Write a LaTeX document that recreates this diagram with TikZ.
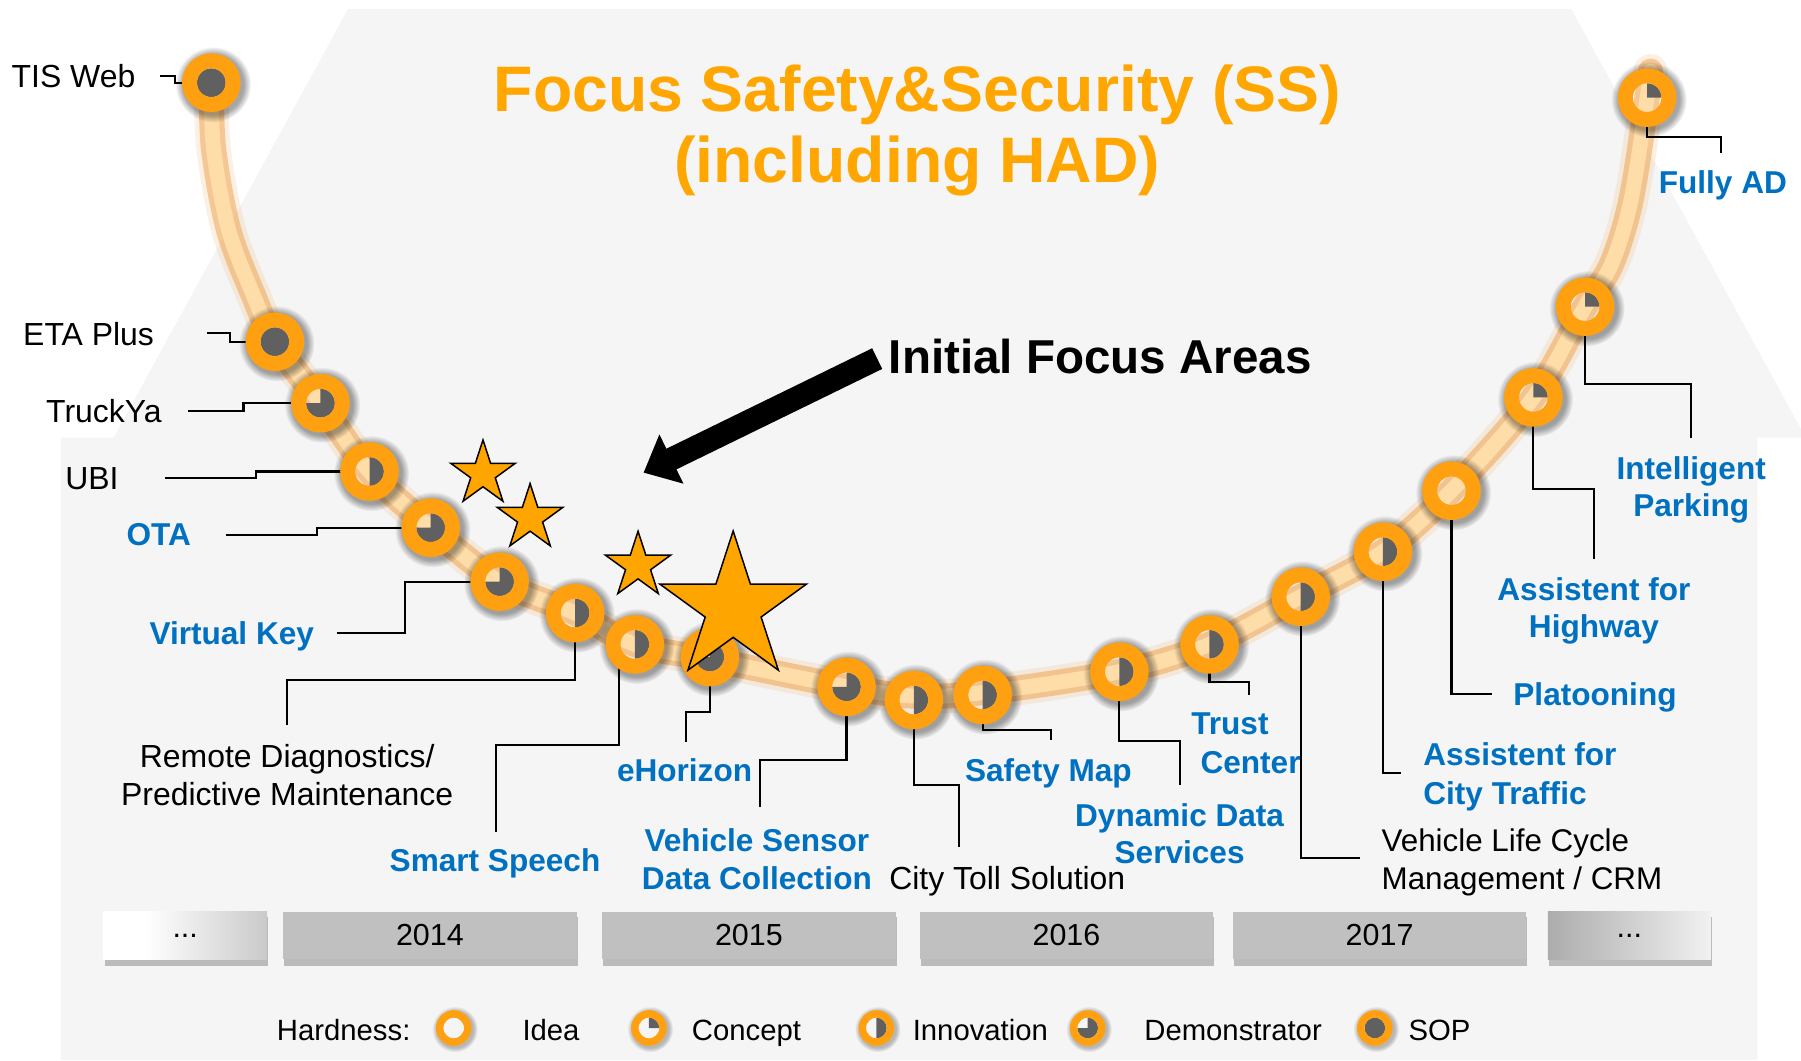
\documentclass[tikz,border=0pt]{standalone}
\usepackage{fontspec}
\setmainfont{Liberation Sans}
\usetikzlibrary{shapes.geometric,arrows.meta,calc,fadings}
\definecolor{bggray}{RGB}{245,245,245}
\definecolor{ringor}{RGB}{255,160,16}
\definecolor{staror}{RGB}{255,165,0}
\definecolor{titleor}{RGB}{255,166,0}
\definecolor{piegray}{RGB}{96,96,96}
\definecolor{lblue}{RGB}{0,112,192}
\definecolor{bandcol}{RGB}{255,221,168}
\definecolor{bandedge}{RGB}{240,160,70}
\definecolor{yearcol}{RGB}{192,192,192}
\definecolor{boxdark}{RGB}{165,165,165}
\pgfdeclarehorizontalshading{fadeleft}{100bp}{color(0bp)=(white); color(38bp)=(white); color(100bp)=(boxdark)}
\pgfdeclarehorizontalshading{faderight}{100bp}{color(0bp)=(boxdark); color(20bp)=(boxdark); color(85bp)=(white); color(100bp)=(white)}
\newcommand{\hardpie}[3]{\fill[piegray] (#1) -- +(0pt,#3) arc[start angle=90,end angle=#2,radius=#3] -- cycle;}
\newcommand{\hardfull}[2]{\fill[piegray] (#1) circle[radius=#2];}
\begin{document}
\begin{tikzpicture}[x=1pt,y=-1pt,
 ring/.style={circle,draw=ringor,line width=13pt,minimum size=38pt,inner sep=0pt},
 lring/.style={circle,draw=ringor,line width=6.5pt,minimum size=24.5pt,inner sep=0pt},
 lbl/.style={font=\fontsize{27.8}{33.5}\selectfont,inner sep=0pt},
 blbl/.style={font=\fontsize{27.5}{33.5}\selectfont\bfseries,text=lblue,inner sep=0pt},
 conn/.style={draw=black,line width=1.8pt},
 starn/.style={star,star points=5,star point ratio=2.618,inner sep=0pt,fill=staror,draw=black,line width=1.3pt},
 ybox/.style={rectangle,inner sep=0pt,minimum height=41.5pt,font=\fontsize{26.5}{32}\selectfont,fill=yearcol},
 yshadow/.style={fill=black!45,opacity=.55},
 glow/.style={fill=black,opacity=.35,even odd rule,path fading=circle with fuzzy edge 20 percent},
 leg/.style={font=\fontsize{25.5}{30}\selectfont,inner sep=0pt,anchor=base west}]

\useasboundingbox (0,0) rectangle (1568,922.9);
\fill[white] (0,0) rectangle (1568,922.9);
\fill[bggray] (303,8) -- (1368,8) -- (1568,373.6) -- (1568,381) -- (1530,381) -- (1530,922.9) -- (53,922.9) -- (53,381) -- (99,381) -- cycle;

% year boxes
\foreach \xa/\xb in {90/232.5,246/502.6,524/780,801/1056,1073.6/1328.6,1347.6/1489.6}
  \fill[yshadow] (\xa+1,798) rectangle (\xb+1,841);
\node[ybox,shading=fadeleft,minimum width=142.5pt] (y0) at (161.25,814.4) {...};
\node[ybox,minimum width=256.6pt] (y1) at (374.3,814.4) {2014};
\node[ybox,minimum width=256pt] (y2) at (652,814.4) {2015};
\node[ybox,minimum width=255pt] (y3) at (928.5,814.4) {2016};
\node[ybox,minimum width=255pt] (y4) at (1201.1,814.4) {2017};
\node[ybox,shading=faderight,minimum width=142pt] (y5) at (1418.6,814.4) {...};

% node centres
\coordinate (c1) at (184,72);
\coordinate (c2) at (239.3,297.5);
\coordinate (c3) at (279,351);
\coordinate (c4) at (321.7,410.5);
\coordinate (c5) at (375,459.4);
\coordinate (c6) at (435,506.4);
\coordinate (c7) at (500.7,533.7);
\coordinate (c8) at (552.7,561);
\coordinate (c9) at (618,572);
\coordinate (c10) at (737,598);
\coordinate (c11) at (795.6,609.4);
\coordinate (c12) at (855.5,605);
\coordinate (c13) at (974.5,584.8);
\coordinate (c14) at (1053,561);
\coordinate (c15) at (1132.4,519.5);
\coordinate (c16) at (1204,480.3);
\coordinate (c17) at (1263.7,427.2);
\coordinate (c18) at (1335,346);
\coordinate (c19) at (1380,267);
\coordinate (c20) at (1434,85);

% band
\foreach \w/\c/\o in {30/bandedge/0.15,22/bandedge/0.5,13/bandcol/1}
  \draw[line width=\w pt,color=\c,opacity=\o,line cap=round,line join=round]
    plot[smooth,tension=0.55] coordinates {(184,72) (186,130) (199,200) (221,258) (239.3,297.5) (279,351) (321.7,410.5) (375,459.4) (435,506.4) (500.7,533.7) (552.7,561) (618,574) (737,598) (795.6,606) (855.5,603) (974.5,584.8) (1053,561) (1132.4,519.5) (1204,480.3) (1263.7,427.2) (1335,346) (1380,267) (1403,230) (1420,174) (1434,85) (1437,62)};

% glows (ring-shaped, hole left clear)
\foreach \i in {1,...,20} \fill[glow] ($(c\i)+(1.5,1.5)$) circle (33pt) ($(c\i)$) circle (18pt);

% hardness pies
\hardfull{c1}{12.5pt}
\hardfull{c2}{12.5pt}
\foreach \i in {3,5,6,9,10} {\hardpie{c\i}{-180}{12.5pt}}
\foreach \i in {4,7,8,11,12,13,14,15,16} {\hardpie{c\i}{-90}{12.5pt}}
\foreach \i in {18,19,20} {\hardpie{c\i}{0}{12.5pt}}

% labels (multi-line nodes: base = last line)
\node[lbl,anchor=base west] (t1) at (10,76.5) {TIS Web};
\node[lbl,anchor=base west] (t2) at (20,300.5) {ETA Plus};
\node[lbl,anchor=base west] (t3) at (40,368) {TruckYa};
\node[lbl,anchor=base west] (t4) at (56.7,426) {UBI};
\node[blbl,anchor=base west] (t5) at (110,475) {OTA};
\node[blbl,anchor=base west] (t6) at (130,561.5) {Virtual Key};
\node[lbl,anchor=base,align=center] (t7) at (250,701.5) {Remote Diagnostics/\\Predictive Maintenance};
\node[blbl,anchor=base] (t8) at (431,759) {Smart Speech};
\node[blbl,anchor=base] (t9) at (596,680.5) {eHorizon};
\node[blbl,anchor=base,align=center,font=\fontsize{27.5}{32.5}\selectfont\bfseries] (t10) at (659,774) {Vehicle Sensor\\Data Collection};
\node[lbl,anchor=base west] (t11) at (774,774.3) {City Toll Solution};
\node[blbl,anchor=base west] (t12) at (840,680.5) {Safety Map};
\node[blbl,anchor=base,align=center,font=\fontsize{27.5}{32.5}\selectfont\bfseries] (t13) at (1027,752.2) {Dynamic Data\\Services};
\node[blbl,anchor=base west,align=left] (t14) at (1037,673.3) {Trust\\\hspace*{8pt}Center};
\node[lbl,anchor=base west,align=left,font=\fontsize{27.3}{33}\selectfont] (t15) at (1202.7,774.3) {Vehicle Life Cycle\\Management / CRM};
\node[blbl,anchor=base west,align=left] (t16) at (1239,700) {Assistent for\\City Traffic};
\node[blbl,anchor=base west] (t17) at (1317.4,613.8) {Platooning};
\node[blbl,anchor=base,align=center,font=\fontsize{27.5}{32.4}\selectfont\bfseries] (t18) at (1387.7,554.8) {Assistent for\\Highway};
\node[blbl,anchor=base,align=center,font=\fontsize{27.5}{32.5}\selectfont\bfseries] (t19) at (1472.4,449.8) {Intelligent\\Parking};
\node[blbl,anchor=base west] (t20) at (1444,168.3) {Fully AD};

% connectors
\draw[conn] (139,66) -- (152,66) -- (152,72) -- ($(c1)+(-19,0)$);
\draw[conn] (180,290) -- (200,290) -- (200,297.5) -- ($(c2)+(-19,0)$);
\draw[conn] (164,358) -- (212,358) -- (212,351) -- ($(c3)+(-19,0)$);
\draw[conn] (144,416) -- (223,416) -- (223,410.5) -- ($(c4)+(-19,0)$);
\draw[conn] (197,465.5) -- (276,465.5) -- (276,459.4) -- ($(c5)+(-19,0)$);
\draw[conn] (293,551.4) -- (353,551.4) -- (353,506.4) -- ($(c6)+(-19,0)$);
\draw[conn] ($(c7)+(0,19)$) -- (500.7,592) -- (250,592) -- (250,631);
\draw[conn] ($(c8)+(-14,16)$) -- (538.7,648.6) -- (432,648.6) -- (432,724);
\draw[conn] ($(c9)+(0,19)$) -- (618,620) -- (597,620) -- (597,646);
\draw[conn] ($(c10)+(0,19)$) -- (737,662) -- (662,662) -- (662,703);
\draw[conn] ($(c11)+(0,19)$) -- (795.6,683.4) -- (835.3,683.4) -- (835.3,737);
\draw[conn] ($(c12)+(0,19)$) -- (855.5,635.5) -- (915.3,635.5) -- (915.3,644);
\draw[conn] ($(c13)+(0,19)$) -- (974.5,644.8) -- (1027,644.8) -- (1027,683.4);
\draw[conn] ($(c14)+(0,19)$) -- (1053,593.5) -- (1087.4,593.5) -- (1087.4,605);
\draw[conn] ($(c15)+(0,19)$) -- (1132.4,747.3) -- (1183.7,747.3);
\draw[conn] ($(c16)+(0,19)$) -- (1204,673.3) -- (1219.7,673.3);
\draw[conn] ($(c17)+(0,19)$) -- (1263.7,604.2) -- (1299,604.2);
\draw[conn] ($(c18)+(0,19)$) -- (1335,426) -- (1388,426) -- (1388,487);
\draw[conn] ($(c19)+(0,19)$) -- (1380,334.3) -- (1472.4,334.3) -- (1472.4,381.6);
\draw[conn] ($(c20)+(0,19)$) -- (1434,119) -- (1498.7,119) -- (1498.7,133.5);

% rings
\foreach \i in {1,...,20} \node[ring] (n\i) at (c\i) {};

% stars
\node[starn,minimum size=59pt] (s1) at (420.5,412.5) {};
\node[starn,minimum size=60pt] (s2) at (461.5,451) {};
\node[starn,minimum size=60pt] (s3) at (555.5,492.5) {};
\node[starn,minimum size=134pt] (s4) at (638.3,529.3) {};

% title and arrow
\node[font=\fontsize{56}{62}\selectfont\bfseries,text=titleor,align=center,anchor=base,inner sep=0pt] (title) at (798.6,159) {Focus Safety\&Security (SS)\\(including HAD)};
\node[font=\fontsize{41.4}{48}\selectfont\bfseries,anchor=base west,inner sep=0pt] (ifa) at (773.7,325) {Initial Focus Areas};
\coordinate (atip) at (560.3,411.5);
\draw[line width=20pt,-{Triangle[length=27pt,width=46pt]}] ($(ifa.west)+(-10,2)$) -- (atip);

% legend
\coordinate (lc1) at (395,895);
\coordinate (lc2) at (565,895);
\coordinate (lc3) at (763,895);
\coordinate (lc4) at (947,895);
\coordinate (lc5) at (1197,895);
\foreach \i in {1,...,5} \fill[glow,opacity=.25] ($(lc\i)+(1,1)$) circle (20pt) ($(lc\i)$) circle (11pt);
\hardpie{lc2}{0}{9pt}
\hardpie{lc3}{-90}{9pt}
\hardpie{lc4}{-180}{9pt}
\hardfull{lc5}{9pt}
\foreach \i in {1,...,5} \node[lring] (lr\i) at (lc\i) {};
\node[leg] (lh) at (240.9,906) {Hardness:};
\node[leg] (l1) at (454.7,906) {Idea};
\node[leg] (l2) at (602.2,906) {Concept};
\node[leg] (l3) at (794.5,906) {Innovation};
\node[leg] (l4) at (996.1,906) {Demonstrator};
\node[leg] (l5) at (1226.2,906) {SOP};
\end{tikzpicture}
\end{document}
